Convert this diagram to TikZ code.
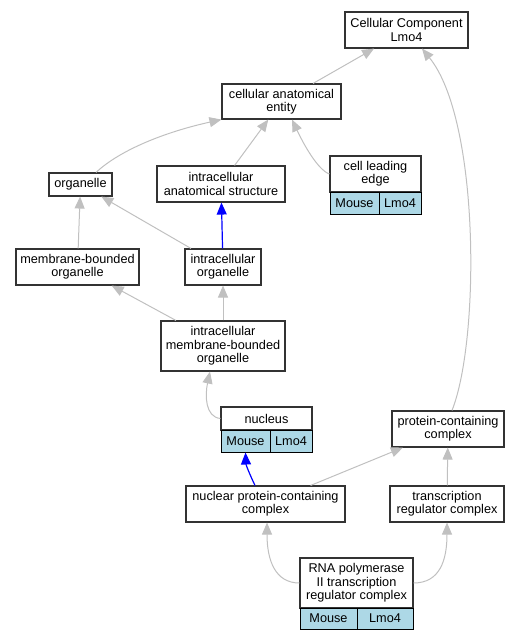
\documentclass[tikz,border=0pt]{standalone}
\usepackage{fontspec}
\setmainfont{Liberation Sans}
\usetikzlibrary{arrows.meta}
\definecolor{rowblue}{RGB}{173,216,230}
\definecolor{edgegray}{RGB}{192,192,192}
\tikzset{
  term/.style={draw=black!80, line width=1.1pt, fill=white, align=center, inner sep=0pt, font=\fontsize{12.7}{13.3}\selectfont},
  row/.style={draw=black, line width=1pt, fill=rowblue, inner sep=0pt, font=\fontsize{12.7}{13.3}\selectfont},
  isa/.style={draw=edgegray, line width=1pt, -{Triangle[length=12pt,width=10pt]}},
  partof/.style={draw=blue, line width=1.2pt, -{Triangle[length=12pt,width=10pt]}}
}
\begin{document}
\begin{tikzpicture}[x=1pt,y=-1pt]
\useasboundingbox (0,0) rectangle (520,640);
\node (cc) at (406.5,30) [term, minimum width=123pt, minimum height=36pt] {Cellular Component\\Lmo4};
\node (cae) at (281.5,101.5) [term, minimum width=119pt, minimum height=35pt] {cellular anatomical\\entity};
\node (org) at (80.5,184.5) [term, minimum width=63pt, minimum height=23pt] {organelle};
\node (ias) at (221,184) [term, minimum width=128pt, minimum height=36pt] {intracellular\\anatomical structure};
\node (cletop) at (375.5,174) [term, minimum width=91pt, minimum height=36pt] {cell leading\\edge};
\node (clemouse) at (354.5,203) [row, minimum width=49pt, minimum height=22pt] {Mouse};
\node (clelmo) at (400,203) [row, minimum width=42pt, minimum height=22pt] {Lmo4};
\node (mbo) at (77.5,267) [term, minimum width=123pt, minimum height=36pt] {membrane-bounded\\organelle};
\node (io) at (223,267) [term, minimum width=76pt, minimum height=36pt] {intracellular\\organelle};
\node (imbo) at (223,346) [term, minimum width=124pt, minimum height=50pt] {intracellular\\membrane-bounded\\organelle};
\node (nuctop) at (266.5,418.5) [term, minimum width=91pt, minimum height=23pt] {nucleus};
\node (nucmouse) at (245.5,441) [row, minimum width=49pt, minimum height=22pt] {Mouse};
\node (nuclmo) at (291,441) [row, minimum width=42pt, minimum height=22pt] {Lmo4};
\node (pcc) at (448,429) [term, minimum width=112pt, minimum height=36pt] {protein-containing\\complex};
\node (npcc) at (265.5,504) [term, minimum width=159pt, minimum height=36pt] {nuclear protein-containing\\complex};
\node (trc) at (447,504) [term, minimum width=114pt, minimum height=36pt] {transcription\\regulator complex};
\node (rnatop) at (356.5,583) [term, minimum width=113pt, minimum height=50pt] {RNA polymerase\\II transcription\\regulator complex};
\node (rnamouse) at (328.5,618.5) [row, minimum width=57pt, minimum height=21pt] {Mouse};
\node (rnalmo) at (385,618.5) [row, minimum width=56pt, minimum height=21pt] {Lmo4};
\draw[isa] (cae) -- (cc);
\draw[isa] ([xshift=4pt]pcc.north) .. controls (480,340) and (480,120) .. ([xshift=15.5pt]cc.south);
\draw[isa] ([xshift=15.5pt]org.north) .. controls (120,150) and (165,132) .. (cae.south west);
\draw[isa] (ias) -- (cae);
\draw[isa] (cletop.west) .. controls (318,170) and (304,145) .. ([xshift=10.5pt]cae.south);
\draw[partof] (io) -- (ias);
\draw[isa] (mbo) -- (org);
\draw[isa] (io) -- (org);
\draw[isa] (imbo) -- (mbo);
\draw[isa] (imbo) -- (io);
\draw[isa] (nuctop.west) .. controls (205,417) and (205,395) .. ([xshift=-13pt]imbo.south);
\draw[partof] ([xshift=-10.5pt]npcc.north) .. controls (250,475) and (246,465) .. (nucmouse.south);
\draw[isa] (npcc) -- (pcc);
\draw[isa] (trc) -- (pcc);
\draw[isa] (rnatop.west) .. controls (275,583) and (267,560) .. ([xshift=1.5pt]npcc.south);
\draw[isa] (rnatop.east) .. controls (440,583) and (447,560) .. (trc.south);
\end{tikzpicture}
\end{document}
